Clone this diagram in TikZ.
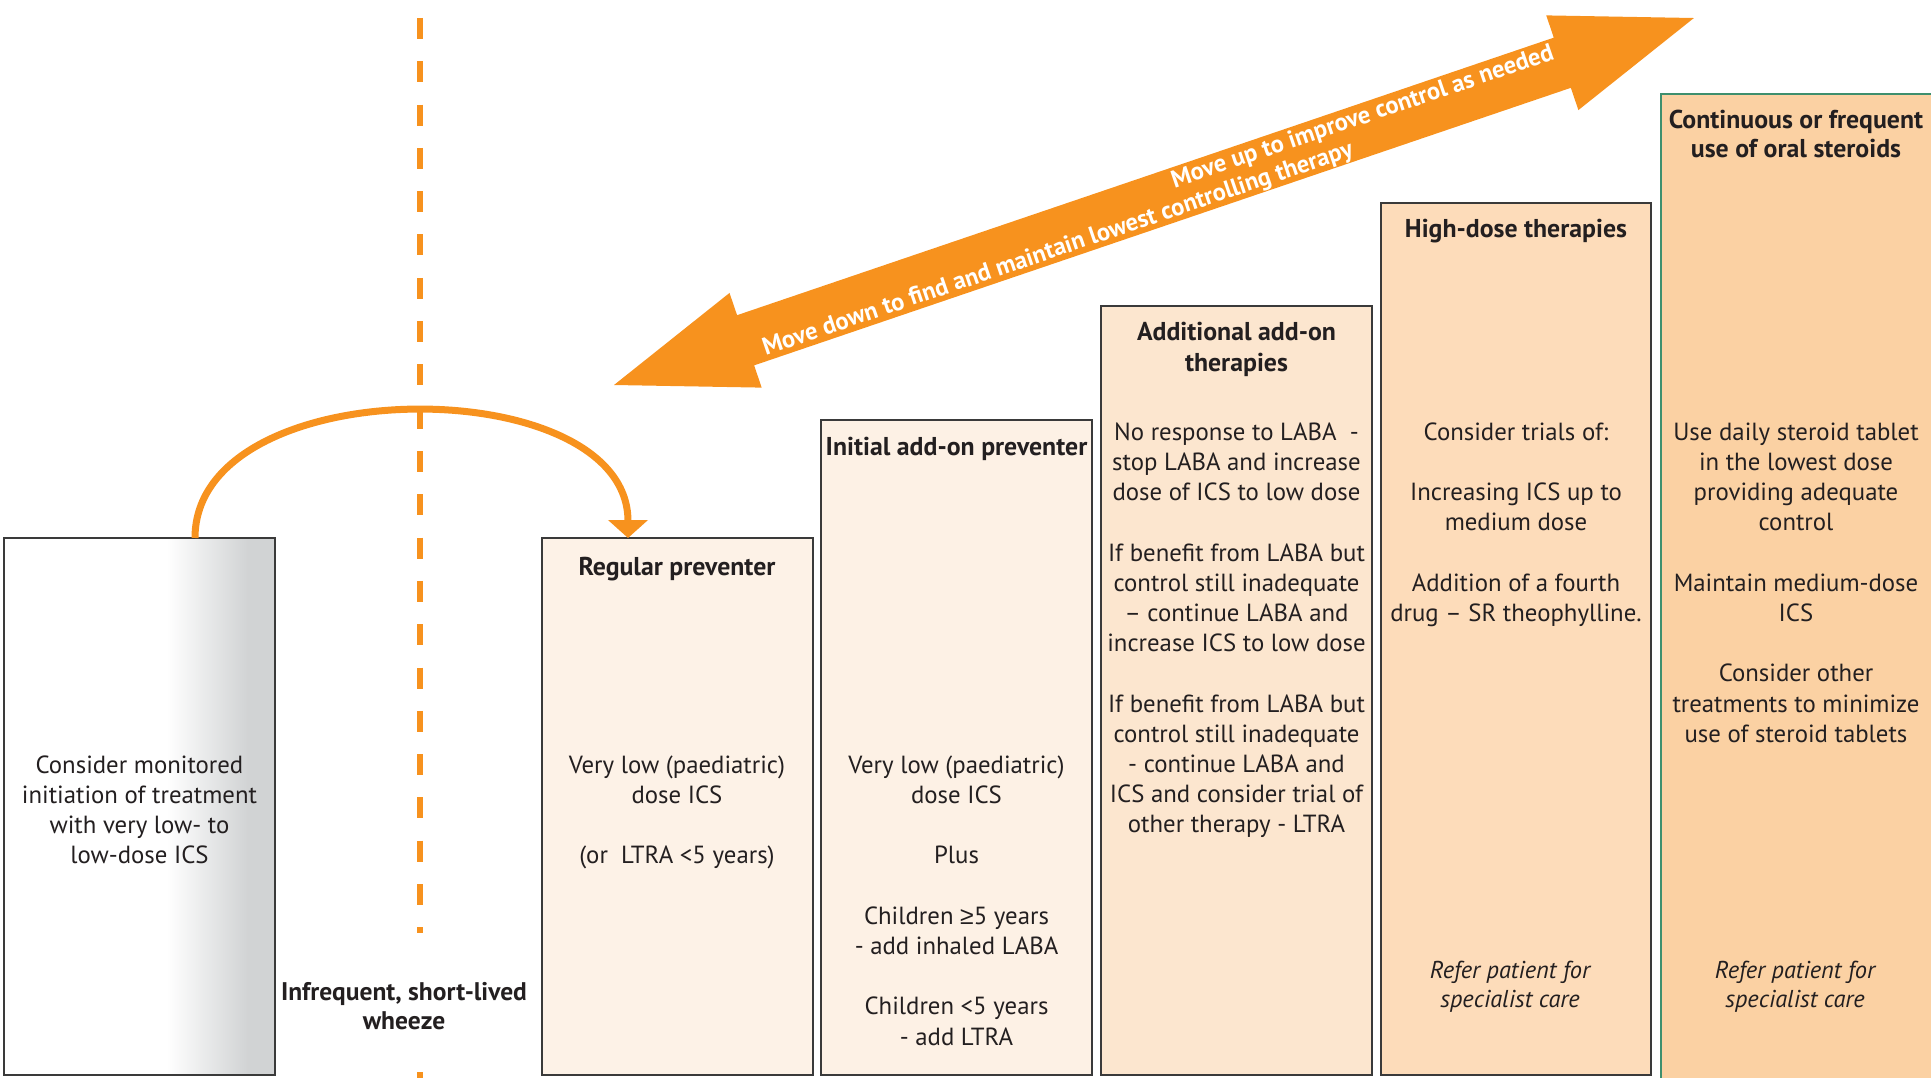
\documentclass[tikz,border=0pt]{standalone}
\usepackage{fontspec}
\setmainfont{PT Sans}
\newfontfamily\symf{Liberation Sans}
\usetikzlibrary{calc,arrows.meta}
\definecolor{orng}{HTML}{F7921E}
\definecolor{boxgray}{HTML}{D1D3D4}
\definecolor{boxline}{HTML}{3A3A3A}
\definecolor{greenline}{HTML}{3E8F6E}
\definecolor{fillA}{HTML}{FDF2E7}
\definecolor{fillB}{HTML}{FDF1E5}
\definecolor{fillC}{HTML}{FCE6CF}
\definecolor{fillD}{HTML}{FDDCBA}
\definecolor{fillE}{HTML}{FBD1A3}
\definecolor{txtcol}{HTML}{231F20}
\pgfdeclarehorizontalshading{boxoneshade}{100bp}{color(0bp)=(white); color(55bp)=(white); color(70bp)=(boxgray); color(100bp)=(boxgray)}
\newcommand\myTopStrut{\rule{0pt}{24pt}}
\newcommand\bodyf{\fontsize{24.8}{30.2}\selectfont}
\newcommand\hdrf{\bfseries\fontsize{25.8}{30}\selectfont}
\newcommand\italf{\itshape\fontsize{24.4}{29}\selectfont}
\newcommand\arrf{\bfseries\fontsize{24.6}{24}\selectfont}
\begin{document}
\begin{tikzpicture}[x=1pt,y=-1pt,
  boxst/.style={draw=boxline, line width=2pt, outer sep=0pt, inner sep=0pt, anchor=north west, minimum width=271pt},
  txt/.style={anchor=north, inner sep=0pt, align=center, font=\bodyf, text=txtcol},
  hdr/.style={txt, font=\hdrf},
  ital/.style={txt, font=\italf},
  arrtxt/.style={anchor=base, inner sep=0pt, font=\arrf, text=white, transform shape},
  dashline/.style={draw=orng, line width=5.5pt, dash pattern=on 21pt off 22.3pt}]
\useasboundingbox (0,0) rectangle (1931,1078);
\clip (0,0) rectangle (1931,1078);
% divider
\draw[dashline] (420,18) -- (420,933);
\draw[orng, line width=5.5pt] (420,1072) -- (420,1079);
% boxes
\node[boxst, minimum height=537pt, shade, shading=boxoneshade] (b1) at (4,538) {};
\node[boxst, minimum height=537pt, fill=fillA] (b2) at (542,538) {};
\node[boxst, minimum height=655pt, fill=fillB] (b3) at (821,420) {};
\node[boxst, minimum height=769pt, fill=fillC] (b4) at (1101,306) {};
\node[boxst, minimum height=872pt, minimum width=270pt, fill=fillD] (b5) at (1381,203) {};
\node[boxst, minimum height=985pt, minimum width=290pt, fill=fillE, draw=greenline] (b6) at (1661,94) {};
% curved arrow
\coordinate (cS) at ($(b1.north west)+(191,0)$);
\coordinate (cE) at ($(b2.north west)+(86,0)$);
\draw[orng, line width=7pt, -{Triangle[width=39pt,length=18pt]}] (cS) .. controls ($(cS)+(0,-169)$) and ($(cE)+(0,-169)$) .. (cE);
% big double arrow
\begin{scope}[shift={(614,385)}, rotate=18.77]
\fill[orng] (0,0) -- (139,-50) -- (139,-26.5) -- (1001.6,-26.5) -- (1001.6,-50) -- (1140.6,0) -- (1001.6,50) -- (1001.6,26.5) -- (139,26.5) -- (139,50) -- cycle;
\node[arrtxt] (up) at (795,-6) {Move up to improve control as needed};
\node[arrtxt] (down) at (464,21) {Move down to find and maintain lowest controlling therapy};
\end{scope}
% texts
\node[txt] (t1) at (139.5,749) {\myTopStrut Consider monitored\\initiation of treatment\\with very low- to\\low-dose ICS};
\node[hdr, font=\bfseries\fontsize{25.5}{29}\selectfont] (wh) at (404,976.5) {\myTopStrut Infrequent, short-lived\\wheeze};
\node[hdr] (h2) at (677,551) {\myTopStrut Regular preventer};
\node[txt] (t2) at (677,749) {\myTopStrut Very low (paediatric)\\dose ICS\\[30.2pt](or~~LTRA <5 years)};
\node[hdr] (h3) at (956.5,431) {\myTopStrut Initial add-on preventer};
\node[txt] (t3) at (956.5,749) {\myTopStrut Very low (paediatric)\\dose ICS\\[30.2pt]Plus\\[30.2pt]Children {\symf ≥}5 years\\- add inhaled LABA\\[30.2pt]Children <5 years\\- add LTRA};
\node[hdr, font=\bfseries\fontsize{25.8}{31}\selectfont] (h4) at (1236.5,316.7) {\myTopStrut Additional add-on\\therapies};
\node[txt] (t4) at (1236.5,416) {\myTopStrut No response to LABA~~-\\stop LABA and increase\\dose of ICS to low dose\\[30.2pt]If benefit from LABA but\\control still inadequate\\– continue LABA and\\increase ICS to low dose\\[30.2pt]If benefit from LABA but\\control still inadequate\\- continue LABA and\\ICS and consider trial of\\other therapy - LTRA};
\node[hdr] (h5) at (1516,213) {\myTopStrut High-dose therapies};
\node[txt] (t5) at (1516,416) {\myTopStrut Consider trials of:\\[30.2pt]Increasing ICS up to\\medium dose\\[30.2pt]Addition of a fourth\\drug – SR theophylline.};
\node[ital] (i5) at (1510,954) {\myTopStrut Refer patient for\\specialist care};
\node[hdr, font=\bfseries\fontsize{25.8}{29}\selectfont] (h6) at (1796,104.3) {\myTopStrut Continuous or frequent\\use of oral steroids};
\node[txt] (t6) at (1796,416) {\myTopStrut Use daily steroid tablet\\in the lowest dose\\providing adequate\\control\\[30.2pt]Maintain medium-dose\\ICS\\[30.2pt]Consider other\\treatments to minimize\\use of steroid tablets};
\node[ital] (i6) at (1795,954) {\myTopStrut Refer patient for\\specialist care};
\end{tikzpicture}
\end{document}
